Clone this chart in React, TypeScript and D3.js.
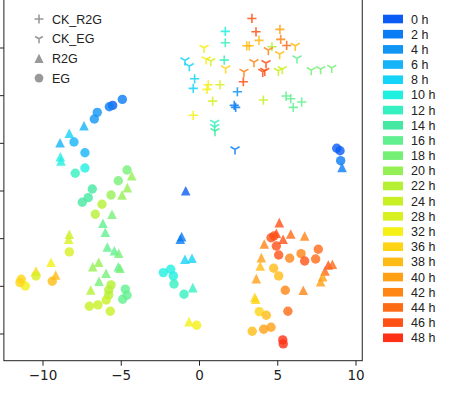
import React from "react";
import * as d3 from "d3";

// time-point legend
const hours = [0, 2, 4, 6, 8, 10, 12, 14, 16, 18, 20, 22, 24, 28, 32, 36, 38, 40, 42, 44, 46, 48];
const hourColors = [
  "#0a5cf5", "#0a7cf5", "#1095f5", "#15b4f8", "#15d4f8", "#20f0e0", "#35f0c0", "#45e8a0",
  "#60f090", "#75f075", "#95f055", "#b5f035", "#c8f025", "#d8f020", "#f5f015", "#ffd415",
  "#ffbb15", "#ffa015", "#ff8515", "#ff6a15", "#ff5015", "#ff3015",
];
const groupNames = ["CK_R2G", "CK_EG", "R2G", "EG"];
const xTicks = [-10, -5, 0, 5, 10];
const yTicks = [-15, -10, -5, 0, 5, 10, 15];

// [x, y, hour]
const egPoints: [number, number, number][] = [
  [-4.93, 9.61, 2], [-5.55, 8.98, 0], [-5.76, 8.84, 2], [-6.53, 8.25, 4], [-6.72, 7.55, 4],
  [-8.02, 5.14, 6], [-7.32, 4.01, 6], [-7.32, 2.41, 10], [-7.94, 1.86, 12], [-6.85, 0.21, 14],
  [-7.11, -0.7, 14], [-7.49, -1.18, 14], [-4.63, 2.2, 18], [-5.19, 1.08, 18], [-5.65, -0.42, 20],
  [-6.23, -1.39, 22], [-6.66, -2.44, 22], [-8.32, -6.39, 28], [-10.45, -8.91, 28], [-9.41, -9.47, 38],
  [-11.39, -9.26, 36], [-11.13, -9.96, 32], [-11.47, -9.61, 36], [-5.65, -9.85, 22], [-5.8, -10.38, 22],
  [-5.8, -10.9, 22], [-5.96, -11.43, 24], [-6.49, -11.95, 24], [-7.04, -12.09, 24], [-4.74, -10.3, 16],
  [-4.63, -10.93, 16], [-4.91, -11.35, 16], [-5.7, -12.61, 24], [-2.31, -8.56, 10], [-1.84, -8.21, 10],
  [-1.67, -8.91, 10], [-1.63, -9.75, 12], [-0.99, -10.83, 12], [-0.18, -14.08, 32], [8.77, 4.48, 0],
  [8.98, 4.22, 0], [9.02, 3.18, 2], [4.57, -4.9, 46], [4.76, -4.72, 46], [4.91, -5.77, 46],
  [5.06, -6.71, 46], [5.76, -7.05, 42], [6.49, -6.57, 42], [6.72, -7.34, 46], [7.42, -7.13, 44],
  [7.59, -6.11, 44], [4.74, -8.1, 38], [5.06, -8.91, 38], [5.48, -10.41, 42], [5.65, -12.61, 44],
  [3.82, -12.65, 36], [4.27, -13.03, 38], [3.37, -14.71, 38], [4.1, -14.5, 40], [4.57, -14.29, 40],
  [5.32, -15.62, 48], [5.35, -16.04, 48],
];
const r2gPoints: [number, number, number][] = [
  [-7.38, 6.84, 6], [-8.32, 6.05, 8], [-8.91, 5.06, 6], [-8.89, 3.6, 10], [-8.85, 3.14, 10],
  [-4.33, 1.6, 20], [-4.61, 0.35, 20], [-4.95, -0.42, 20], [-5.59, -2.44, 18], [-6.17, -3.39, 16],
  [-6.02, -4.33, 16], [-8.32, -4.54, 24], [-8.36, -5.06, 28], [-5.89, -5.87, 16], [-5.44, -6.26, 16],
  [-5.16, -6.53, 18], [-9.49, -7.47, 32], [-10.45, -8.39, 36], [-9.19, -8.81, 38], [-6.82, -7.94, 20],
  [-6.44, -7.47, 20], [-5.19, -7.94, 16], [-5.08, -8.1, 18], [-5.97, -8.63, 18], [-6.42, -9.47, 18],
  [-6.95, -10.38, 22], [-1.14, -4.79, 2], [-1.23, -5.06, 2], [-0.93, -7.16, 8], [-0.48, -7.05, 8],
  [-0.43, -10.14, 12], [-0.67, -13.7, 32], [-0.88, 0.03, 0], [9.11, 2.48, 2], [5.1, -3.32, 46],
  [4.91, -4.43, 46], [5.34, -5.06, 46], [5.83, -4.51, 44], [6.72, -4.72, 42], [4.14, -5.56, 42],
  [3.95, -6.99, 40], [3.88, -7.86, 38], [8.23, -7.76, 46], [8.49, -7.68, 44], [8.02, -8.39, 44],
  [7.87, -8.98, 40], [7.74, -9.51, 40], [3.63, -9.19, 40], [6.63, -10.41, 42], [3.53, -11.14, 36],
  [3.59, -11.35, 36],
];
const ckR2gPoints: [number, number, number][] = [
  [3.35, 18.1, 46], [1.65, 16.74, 10], [3.61, 16.7, 46], [5.14, 16.95, 40], [1.65, 15.55, 12],
  [3.8, 15.8, 38], [3.02, 15.23, 38], [3.18, 15.23, 38], [5.19, 15.9, 42], [5.57, 15.27, 44],
  [1.58, 13.73, 12], [-0.31, 11.77, 8], [-0.4, 10.77, 8], [2.8, 11.46, 46], [2.42, 10.41, 4],
  [2.22, 8.98, 2], [2.31, 8.77, 2], [0.56, 11.14, 32], [0.48, 10.66, 32], [1.31, 11.14, 28],
  [0.84, 9.43, 28], [4.08, 9.54, 24], [-0.4, 7.94, 32], [5.53, 9.96, 16], [5.83, 9.68, 16],
  [5.99, 8.77, 16], [6.53, 9.33, 16], [4.63, 15.13, 22],
];
const ckEgPoints: [number, number, number][] = [
  [0.29, 15.02, 32], [0.43, 13.81, 32], [0.72, 13.63, 28], [1.67, 12.86, 36], [-0.93, 13.7, 8],
  [-0.65, 13.1, 8], [4.4, 14.78, 42], [6.12, 15.23, 38], [5.12, 14.36, 38], [3.48, 13.52, 42],
  [4.25, 13.42, 46], [4.17, 12.61, 46], [4.04, 12.51, 46], [2.84, 12.51, 42], [6.23, 13.91, 16],
  [5.04, 12.61, 24], [5.29, 12.79, 24], [7.14, 12.68, 18], [7.74, 12.79, 18], [8.45, 12.92, 18],
  [0.97, 7.16, 12], [0.97, 6.71, 12], [0.99, 6.29, 14], [2.27, 4.37, 2],
];

const W = 474;
const H = 405;

const x = d3.scaleLinear().domain([-10, 10]).range([43, 356]);
const y = d3.scaleLinear().domain([-15, 15]).range([334, 48]);
const color = d3.scaleOrdinal<number, string>().domain(hours).range(hourColors);

const xMin = -12.5, xMax = 10.4, yMin = -17.8, yMax = 20.5;

const triPath = (s: number) => `M0,${-s}L${s},${s}L${-s},${s}Z`;
const plusPath = (s: number) => `M${-s},0H${s}M0,${-s}V${s}`;
const triDownPath = (s: number) =>
  `M0,0V${s}M0,0L${0.866 * s},${-0.5 * s}M0,0L${-0.866 * s},${-0.5 * s}`;

const FONT = "'Liberation Sans', Arial, sans-serif";
const TICKFONT = "'DejaVu Sans', sans-serif";

export default function App() {
  const left = x(xMin), right = x(xMax), top = y(yMax), bottom = y(yMin);
  return (
    <svg width={W} height={H} style={{ position: "absolute", left: 0, top: 0, background: "#fff" }}>
      <g>
        {ckR2gPoints.map((d, i) => (
          <path key={"cr" + i} d={plusPath(4.6)} transform={`translate(${x(d[0])},${y(d[1])})`}
            stroke={color(d[2])} strokeWidth={1.6} fill="none" opacity={0.85} />
        ))}
        {ckEgPoints.map((d, i) => (
          <path key={"ce" + i} d={triDownPath(5.2)} transform={`translate(${x(d[0])},${y(d[1])})`}
            stroke={color(d[2])} strokeWidth={1.6} fill="none" opacity={0.85} />
        ))}
        {r2gPoints.map((d, i) => (
          <path key={"r" + i} d={triPath(4.8)} transform={`translate(${x(d[0])},${y(d[1])})`}
            fill={color(d[2])} opacity={0.8} />
        ))}
        {egPoints.map((d, i) => (
          <circle key={"e" + i} cx={x(d[0])} cy={y(d[1])} r={4.7} fill={color(d[2])} opacity={0.8} />
        ))}
      </g>
      {/* spines */}
      <rect x={left} y={top} width={right - left} height={bottom - top} fill="none" stroke="#222" strokeWidth={1} />
      {xTicks.map((t) => (
        <g key={"xt" + t} transform={`translate(${x(t)},${bottom})`}>
          <line y1={0} y2={5} stroke="#222" strokeWidth={1} />
          <text y={19} textAnchor="middle" fontFamily={TICKFONT} fontSize={13.5} fill="#222">
            {t < 0 ? "\u2212" + Math.abs(t) : String(t)}
          </text>
        </g>
      ))}
      {yTicks.map((t) => (
        <line key={"yt" + t} x1={left - 5} x2={left} y1={y(t)} y2={y(t)} stroke="#222" strokeWidth={1} />
      ))}
      {/* group legend */}
      {groupNames.map((g, i) => {
        const cy = 19 + i * 19.7;
        let mark;
        if (i === 0) mark = <path d={plusPath(4.5)} stroke="#999" strokeWidth={1.6} fill="none" />;
        else if (i === 1) mark = <path d={triDownPath(4.5)} stroke="#999" strokeWidth={1.6} fill="none" />;
        else if (i === 2) mark = <path d={triPath(4.6)} fill="#999" />;
        else mark = <circle r={4.4} fill="#999" />;
        return (
          <g key={g} transform={`translate(39,${cy})`}>
            {mark}
            <text x={13} y={4.5} fontFamily={FONT} fontSize={12.5} fill="#222">{g}</text>
          </g>
        );
      })}
      {/* time legend */}
      {hours.map((h, i) => {
        const cy = 19 + i * 15.18;
        return (
          <g key={"h" + h} transform={`translate(383,${cy})`}>
            <rect x={0} y={-4.3} width={20} height={8.6} fill={color(h)} />
            <text x={28} y={4.5} fontFamily={FONT} fontSize={12.5} fill="#222">{`${h} h`}</text>
          </g>
        );
      })}
    </svg>
  );
}
